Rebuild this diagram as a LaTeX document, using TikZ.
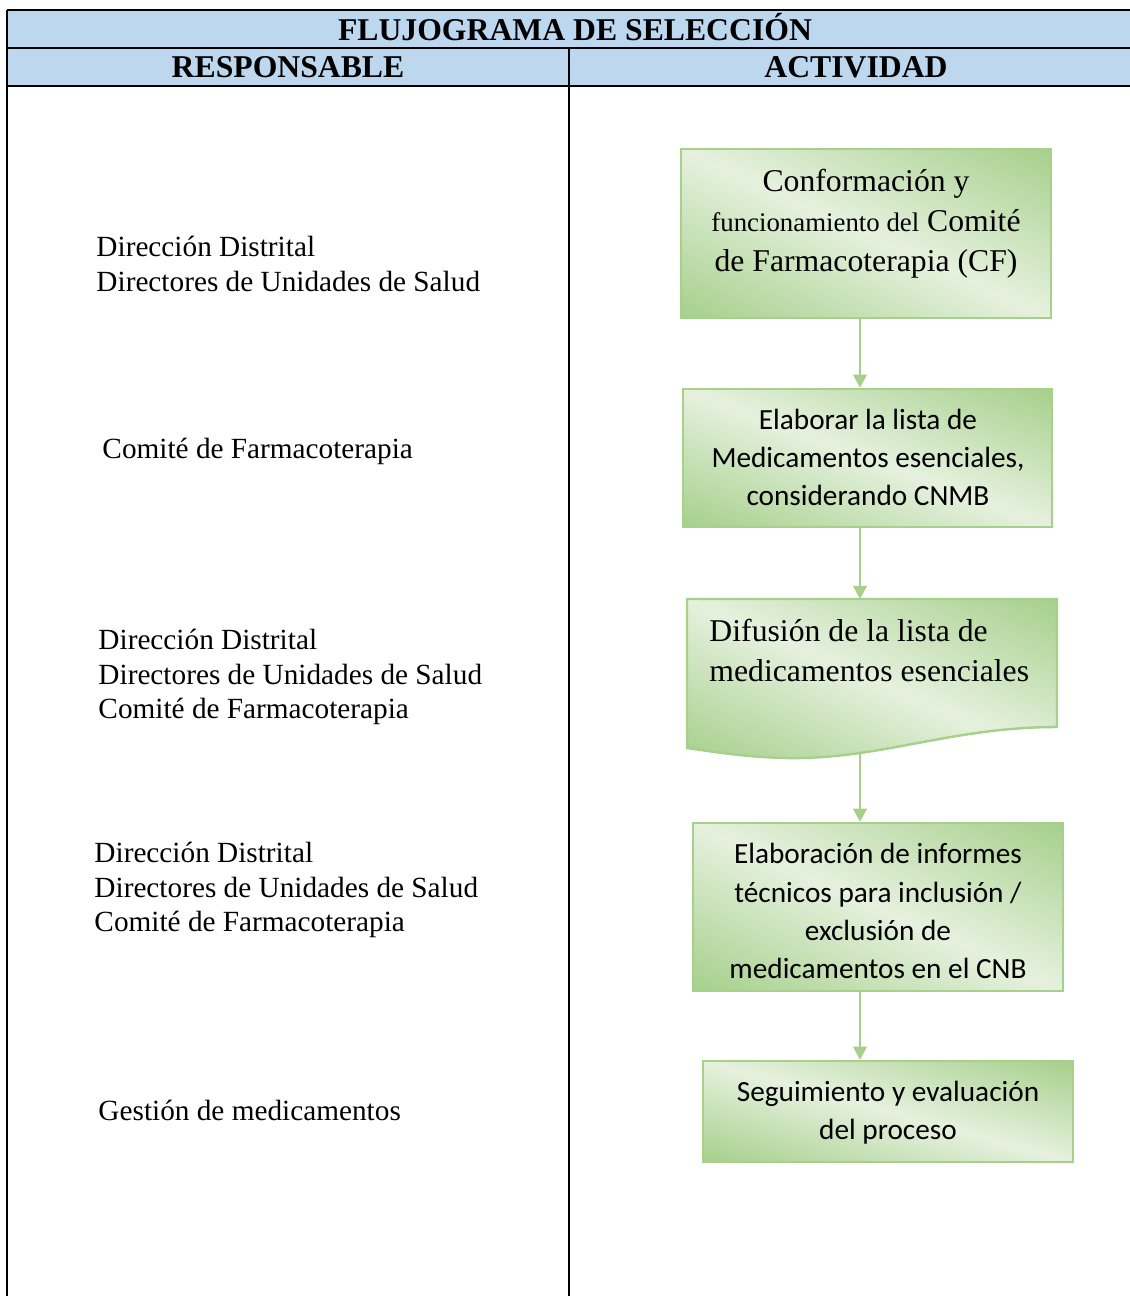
\documentclass[tikz,border=0pt]{standalone}
\usepackage{fontspec}
\setmainfont{Liberation Serif}
\newfontfamily\calibrifont{Carlito}
\usetikzlibrary{arrows.meta}
\definecolor{hdrblue}{RGB}{189,215,238}
\definecolor{gline}{RGB}{168,208,141}
\pgfdeclarefunctionalshading{moss}{\pgfpointorigin}{\pgfpoint{100bp}{100bp}}{}{
  add 100 sub abs 50 div
  dup 1 gt {pop 1} if
  dup -0.250 mul 0.900 add exch
  dup -0.132 mul 0.945 add exch
  -0.325 mul 0.870 add
}
\tikzset{
  x=0.41pt, y=-0.41pt,
  tline/.style={line width=0.85pt, black},
  hdr/.style={font=\bfseries\fontsize{13}{15}\selectfont, inner sep=0pt},
  resp/.style={font=\fontsize{12}{14.1}\selectfont, align=left, anchor=west, inner sep=0pt},
  actbox/.style={draw=gline, line width=1pt, shading=moss, inner sep=0pt},
  caltext/.style={font=\calibrifont\fontsize{12}{15.6}\selectfont, align=center, inner sep=0pt},
  timestext/.style={font=\fontsize{13}{16.4}\selectfont, inner sep=0pt},
  arr/.style={draw=gline, line width=0.85pt, -{Triangle[width=5.6pt,length=5.4pt]}, shorten >=0pt}
}
\begin{document}
\begin{tikzpicture}
\useasboundingbox (0,0) rectangle (1130,1296);
% header
\fill[hdrblue] (7,10) rectangle (1130,86);
\draw[tline] (7,10) -- (1130,10);
\draw[tline] (7,48) -- (1130,48);
\draw[tline] (7,86) -- (1130,86);
\draw[tline] (7,10) -- (7,1296);
\draw[tline] (569,48) -- (569,1296);
\node[hdr] (title) at (575,27.5) {FLUJOGRAMA DE SELECCIÓN};
\node[hdr] (hresp) at (288,67) {RESPONSABLE};
\node[hdr] (hact) at (856,67) {ACTIVIDAD};

% responsables
\node[resp] (r1) at (96,264) {Dirección Distrital\\Directores de Unidades de Salud};
\node[resp] (r2) at (102,451) {Comité de Farmacoterapia};
\node[resp] (r3) at (98,677) {Dirección Distrital\\Directores de Unidades de Salud\\Comité de Farmacoterapia};
\node[resp] (r4) at (94,890) {Dirección Distrital\\Directores de Unidades de Salud\\Comité de Farmacoterapia};
\node[resp] (r5) at (98,1110.5) {Gestión de medicamentos};

% activity boxes
\coordinate (ax) at (860,0);
\node[actbox, minimum width={370*0.41pt}, minimum height={169*0.41pt}] (b1) at (866,233.5) {};
\node[timestext, align=center] (t1) at (866,224) {Conformación y\\{\fontsize{11}{16.4}\selectfont funcionamiento del} Comité\\de Farmacoterapia (CF)};

\node[actbox, minimum width={369*0.41pt}, minimum height={138*0.41pt}] (b2) at (867.5,458) {};
\node[caltext] (t2) at (868,457.5) {Elaborar la lista de\\Medicamentos esenciales,\\considerando CNMB};

\path[actbox] (687,599) -- (1057,599) -- (1057,727)
  .. controls (950,727) and (880,760) .. (785,758)
  .. controls (745,757) and (715,752) .. (687,748) -- cycle;
\coordinate (dtop) at (860,599);
\coordinate (dbot) at (860,752);
\node[timestext, align=left, anchor=west] (t3) at (709,650) {Difusión de la lista de\\medicamentos esenciales};

\node[actbox, minimum width={370*0.41pt}, minimum height={168*0.41pt}] (b4) at (878,907) {};
\node[caltext] (t4) at (878,911) {Elaboración de informes\\técnicos para inclusión /\\exclusión de\\medicamentos en el CNB};

\node[actbox, minimum width={370*0.41pt}, minimum height={101*0.41pt}] (b5) at (888,1111.5) {};
\node[caltext] (t5) at (888,1113) {Seguimiento y evaluación\\del proceso};

% arrows
\draw[arr] (b1.south -| ax) -- (b2.north -| ax);
\draw[arr] (b2.south -| ax) -- (dtop);
\draw[arr] (dbot) -- (b4.north -| ax);
\draw[arr] (b4.south -| ax) -- (b5.north -| ax);
\end{tikzpicture}
\end{document}
